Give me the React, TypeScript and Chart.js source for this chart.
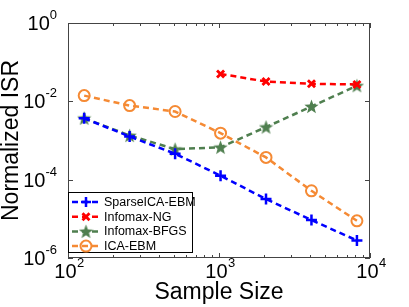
import React, { useEffect, useRef } from "react";
import { Chart, registerables } from "chart.js";

Chart.register(...registerables);

const sampleSizes = [128, 256, 512, 1024, 2048, 4096, 8192];
const sparseIcaEbm = [3.7e-3, 1.26e-3, 4.6e-4, 1.26e-4, 3.2e-5, 9.3e-6, 2.8e-6];
const infomaxNg: (number | null)[] = [null, null, null, 0.05, 0.032, 0.028, 0.027];
const infomaxBfgs = [3.7e-3, 1.34e-3, 6.0e-4, 6.7e-4, 2.2e-3, 7.4e-3, 0.025];
const icaEbm = [0.014, 7.8e-3, 5.5e-3, 1.54e-3, 3.7e-4, 5.2e-5, 8.9e-6];
const seriesNames = ["SparseICA-EBM", "Infomax-NG", "Infomax-BFGS", "ICA-EBM"];
const xTickValues = [100, 200, 300, 400, 500, 600, 700, 800, 900, 1000, 2000, 3000, 4000, 5000, 6000, 7000, 8000, 9000, 10000];
const xMajorTicks = [100, 1000, 10000];
const xTickExponents = ["2", "3", "4"];
const yTickValues = [1e-6, 1e-4, 1e-2, 1];
const yTickExponents = ["-6", "-4", "-2", "0"];

const BLUE = "#0000ff";
const RED = "#ff0000";
const GREEN = "#4f7f4f";
const ORANGE = "#f58a34";
const FONT = "'Liberation Sans', Arial, Helvetica, sans-serif";

function makeStar(size: number, color: string) {
  const c = document.createElement("canvas");
  c.width = size;
  c.height = size;
  const ctx = c.getContext("2d")!;
  const cx = size / 2, cy = size / 2 + 0.6;
  const R = size / 2, r = R * 0.42;
  ctx.beginPath();
  for (let i = 0; i < 10; i++) {
    const rad = i % 2 === 0 ? R : r;
    const a = -Math.PI / 2 + (i * Math.PI) / 5;
    const px = cx + rad * Math.cos(a);
    const py = cy + rad * Math.sin(a);
    if (i === 0) ctx.moveTo(px, py);
    else ctx.lineTo(px, py);
  }
  ctx.closePath();
  ctx.fillStyle = color;
  ctx.fill();
  return c;
}

function toPoints(arr: (number | null)[]) {
  const out: { x: number; y: number }[] = [];
  arr.forEach((v, i) => {
    if (v !== null) out.push({ x: sampleSizes[i], y: v });
  });
  return out;
}

function drawMarker(ctx: CanvasRenderingContext2D, kind: number, x: number, y: number, star: HTMLCanvasElement) {
  ctx.save();
  ctx.setLineDash([]);
  if (kind === 0) {
    ctx.strokeStyle = BLUE;
    ctx.lineWidth = 2.5;
    ctx.beginPath();
    ctx.moveTo(x - 5, y);
    ctx.lineTo(x + 5, y);
    ctx.moveTo(x, y - 5);
    ctx.lineTo(x, y + 5);
    ctx.stroke();
  } else if (kind === 1) {
    ctx.strokeStyle = RED;
    ctx.lineWidth = 2.8;
    ctx.beginPath();
    ctx.moveTo(x - 3.5, y - 3.5);
    ctx.lineTo(x + 3.5, y + 3.5);
    ctx.moveTo(x + 3.5, y - 3.5);
    ctx.lineTo(x - 3.5, y + 3.5);
    ctx.stroke();
  } else if (kind === 2) {
    ctx.drawImage(star, x - star.width / 2, y - star.height / 2);
  } else {
    ctx.strokeStyle = ORANGE;
    ctx.lineWidth = 2;
    ctx.beginPath();
    ctx.arc(x, y, 5.5, 0, Math.PI * 2);
    ctx.stroke();
  }
  ctx.restore();
}

export default function App() {
  const ref = useRef<HTMLCanvasElement | null>(null);

  useEffect(() => {
    if (!ref.current) return;
    const star = makeStar(15, GREEN);
    const colors = [BLUE, RED, GREEN, ORANGE];

    const framePlugin = {
      id: "framePlugin",
      afterDatasetsDraw(chart: any) {
        const { ctx, chartArea } = chart;
        const xs = chart.scales.x;
        const ys = chart.scales.y;
        const { left, right, top, bottom } = chartArea;
        ctx.save();
        // frame
        ctx.strokeStyle = "#444444";
        ctx.lineWidth = 1;
        ctx.setLineDash([]);
        ctx.strokeRect(left + 0.5, top + 0.5, right - left - 1, bottom - top - 1);
        // x ticks
        ctx.beginPath();
        xTickValues.forEach((v) => {
          const px = Math.round(xs.getPixelForValue(v)) + 0.5;
          const len = xMajorTicks.includes(v) ? 5 : 3;
          ctx.moveTo(px, bottom);
          ctx.lineTo(px, bottom - len);
          ctx.moveTo(px, top);
          ctx.lineTo(px, top + len);
        });
        yTickValues.forEach((v) => {
          const py = Math.round(ys.getPixelForValue(v)) + 0.5;
          ctx.moveTo(left, py);
          ctx.lineTo(left + 5, py);
          ctx.moveTo(right, py);
          ctx.lineTo(right - 5, py);
        });
        ctx.stroke();
        // tick labels
        ctx.fillStyle = "#000000";
        ctx.textBaseline = "alphabetic";
        const big = `20px ${FONT}`;
        const small = `13px ${FONT}`;
        xMajorTicks.forEach((v, i) => {
          const px = xs.getPixelForValue(v);
          ctx.font = big;
          const w1 = ctx.measureText("10").width;
          ctx.font = small;
          const w2 = ctx.measureText(xTickExponents[i]).width;
          const start = px - (w1 + w2) / 2 + 1;
          ctx.font = big;
          ctx.fillText("10", start, bottom + 20);
          ctx.font = small;
          ctx.fillText(xTickExponents[i], start + w1 + 0.5, bottom + 9);
        });
        yTickValues.forEach((v, i) => {
          const py = ys.getPixelForValue(v);
          ctx.font = small;
          const w2 = ctx.measureText(yTickExponents[i]).width;
          ctx.font = big;
          const w1 = ctx.measureText("10").width;
          const end = left - 11;
          ctx.fillText("10", end - w2 - w1, py + 7);
          ctx.font = small;
          ctx.fillText(yTickExponents[i], end - w2, py - 4);
        });
        // legend
        const lx = left, ly = 192, lw = 125, lh = 61;
        ctx.fillStyle = "#ffffff";
        ctx.fillRect(lx, ly, lw, lh);
        ctx.strokeStyle = "#000000";
        ctx.lineWidth = 1;
        ctx.strokeRect(lx + 0.5, ly + 0.5, lw - 1, lh - 1);
        seriesNames.forEach((name, i) => {
          const y = 202 + i * 14.7;
          ctx.strokeStyle = colors[i];
          ctx.lineWidth = 2.5;
          ctx.setLineDash([6, 4]);
          ctx.beginPath();
          ctx.moveTo(lx + 4, y);
          ctx.lineTo(lx + 33, y);
          ctx.stroke();
          ctx.setLineDash([]);
          drawMarker(ctx, i, lx + 18, y, star);
          ctx.fillStyle = "#000000";
          ctx.font = `12.5px ${FONT}`;
          ctx.textBaseline = "middle";
          ctx.fillText(name, lx + 36, y + 0.5);
        });
        ctx.restore();
      },
    };

    const common = {
      showLine: true,
      borderWidth: 2.5,
      borderDash: [6, 4],
      fill: false,
      tension: 0,
    };

    const chart = new Chart(ref.current, {
      type: "scatter",
      data: {
        datasets: [
          {
            ...common,
            label: seriesNames[0],
            data: toPoints(sparseIcaEbm),
            borderColor: BLUE,
            backgroundColor: BLUE,
            pointStyle: "cross",
            pointRadius: 5.5,
            pointBorderWidth: 2.5,
          },
          {
            ...common,
            label: seriesNames[1],
            data: toPoints(infomaxNg),
            borderColor: RED,
            backgroundColor: RED,
            pointStyle: "crossRot",
            pointRadius: 5,
            pointBorderWidth: 2.8,
          },
          {
            ...common,
            label: seriesNames[2],
            data: toPoints(infomaxBfgs),
            borderColor: GREEN,
            backgroundColor: GREEN,
            pointStyle: star as any,
            pointRadius: 7,
          },
          {
            ...common,
            label: seriesNames[3],
            data: toPoints(icaEbm),
            borderColor: ORANGE,
            backgroundColor: "rgba(0,0,0,0)",
            pointStyle: "circle",
            pointRadius: 5.5,
            pointBorderWidth: 2,
          },
        ] as any,
      },
      options: {
        animation: false,
        responsive: false,
        events: [],
        layout: { padding: { top: 23, right: 39, left: 0, bottom: 0 } },
        plugins: {
          legend: { display: false },
          tooltip: { enabled: false },
        },
        scales: {
          x: {
            type: "logarithmic",
            min: 100,
            max: 10000,
            grid: { display: false },
            border: { display: false },
            ticks: { display: false },
            afterBuildTicks: (s: any) => {
              s.ticks = xTickValues.map((v) => ({ value: v }));
            },
            afterFit: (s: any) => {
              s.height = 49;
            },
            title: {
              display: true,
              text: "Sample Size",
              color: "#000000",
              font: { family: FONT, size: 23, lineHeight: 1 },
              padding: { top: 0, bottom: 3 },
            },
          },
          y: {
            type: "logarithmic",
            min: 1e-6,
            max: 1,
            grid: { display: false },
            border: { display: false },
            ticks: { display: false },
            afterBuildTicks: (s: any) => {
              s.ticks = yTickValues.map((v) => ({ value: v }));
            },
            afterFit: (s: any) => {
              s.width = 68;
            },
            title: {
              display: true,
              text: "Normalized ISR",
              color: "#000000",
              font: { family: FONT, size: 23, lineHeight: 1 },
              padding: { top: 0, bottom: 0 },
            },
          },
        },
      } as any,
      plugins: [framePlugin],
    });
    return () => chart.destroy();
  }, []);

  return (
    <div style={{ position: "fixed", left: 0, top: 0, width: 409, height: 307, background: "#ffffff" }}>
      <canvas ref={ref} width={409} height={307} />
    </div>
  );
}
